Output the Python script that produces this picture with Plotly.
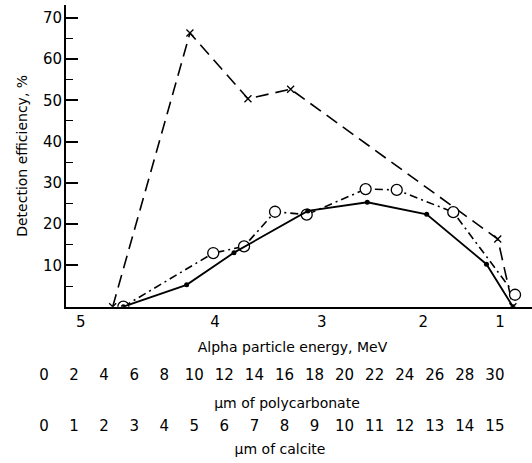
import plotly.graph_objects as go

# x positions are given in µm of polycarbonate absorber (linear scale under the plot)
cross_x = [4.57, 9.71, 13.57, 16.41, 30.19, 31.20]
cross_y = [0, 66.3, 50.4, 52.7, 16.4, 0]

circ_x = [5.28, 11.26, 13.31, 15.37, 17.48, 21.40, 23.47, 27.23, 31.34]
circ_y = [0, 13.0, 14.6, 23.0, 22.3, 28.5, 28.3, 22.9, 2.9]

dot_x = [5.28, 9.49, 12.64, 17.55, 21.51, 25.46, 29.44, 31.20]
dot_y = [0, 5.3, 13.1, 23.2, 25.3, 22.4, 10.3, 0]

# alpha particle energy (MeV) labels and their positions on the polycarbonate scale
energy_pos = [2.44, 11.38, 18.48, 25.24, 30.34]
energy_lab = ["5", "4", "3", "2", "1"]

poly_ticks = list(range(0, 31, 2))
calc_ticks = list(range(0, 16))
y_ticks = [10, 20, 30, 40, 50, 60, 70]

FONT = "DejaVu Sans"
W, H = 532, 463
ML, MT = 10, 5
PW, PH = W - ML, H - MT


def fx(px):
    return (px - ML) / PW


def fy(py):
    return (H - py) / PH


# pixel scale: px = 44 + 15.03 * µm(polycarbonate)
def um(px):
    return (px - 44) / 15.03


fig = go.Figure()
fig.add_trace(go.Scatter(
    x=cross_x, y=cross_y, mode="lines+markers",
    line=dict(color="black", width=1.6, dash="13px,7px"),
    marker=dict(symbol="x-thin", size=7, line=dict(width=1.3, color="black")),
    hoverinfo="skip"))
fig.add_trace(go.Scatter(
    x=circ_x, y=circ_y, mode="lines+markers",
    line=dict(color="black", width=1.6, dash="8px,4px,2px,4px"),
    marker=dict(symbol="circle", size=11, color="white",
                line=dict(width=1.3, color="black")),
    hoverinfo="skip"))
fig.add_trace(go.Scatter(
    x=dot_x, y=dot_y, mode="lines+markers",
    line=dict(color="black", width=1.8),
    marker=dict(symbol="circle", size=5, color="black"),
    hoverinfo="skip"))
# empty traces so the extra scales below the plot are drawn
for ax in ["x2", "x3", "x4"]:
    fig.add_trace(go.Scatter(x=[], y=[], xaxis=ax, yaxis="y",
                             showlegend=False, hoverinfo="skip"))

x_lo, x_hi = um(66), um(532)

common = dict(showgrid=False, zeroline=False, automargin=False)
tfont = dict(family=FONT, size=14, color="black")

fig.update_layout(
    template="none",
    width=W, height=H,
    margin=dict(l=ML, r=0, t=MT, b=0),
    paper_bgcolor="white", plot_bgcolor="rgba(0,0,0,0)",
    showlegend=False,
    font=dict(family=FONT, size=14, color="black"),
    xaxis=dict(domain=[fx(66), 1], range=[x_lo, x_hi], anchor="y",
               showline=True, linewidth=2, linecolor="black",
               showticklabels=False, ticks="", **common),
    yaxis=dict(domain=[fy(306.7), 1], range=[0, 73.1], anchor="x",
               showline=True, linewidth=2, linecolor="black",
               tickvals=y_ticks, ticks="inside", ticklen=12, tickwidth=1.5,
               tickcolor="black", ticklabelstandoff=-1,
               minor=dict(tick0=5, dtick=10, ticks="inside", ticklen=7,
                          tickwidth=1.2, tickcolor="black"),
               tickfont=dict(size=15),
               title=dict(text="Detection efficiency, %", standoff=12,
                          font=tfont), **common),
    xaxis2=dict(domain=[fx(53), 1], range=[um(53), x_hi], anchor="free",
                position=fy(306.7), showline=False, ticks="",
                tickvals=energy_pos, ticktext=energy_lab,
                tickfont=dict(size=15), ticklabelstandoff=4,
                title=dict(text="Alpha particle energy, MeV", standoff=12,
                           font=tfont),
                **common),
    xaxis3=dict(domain=[fx(42), 1], range=[um(42), x_hi], anchor="free",
                position=fy(364), showline=False, ticks="",
                tickvals=poly_ticks, tickfont=dict(size=15),
                title=dict(text="µm of polycarbonate", standoff=15,
                           font=tfont), **common),
    xaxis4=dict(domain=[fx(28), 1], range=[um(28) / 2, x_hi / 2], anchor="free",
                position=fy(415), showline=False, ticks="",
                tickvals=calc_ticks, tickfont=dict(size=15),
                title=dict(text="µm of calcite", standoff=10, font=tfont),
                **common),
)

fig.write_html("out.html", config=dict(displayModeBar=False),
               post_script="document.body.style.margin='0px';")
